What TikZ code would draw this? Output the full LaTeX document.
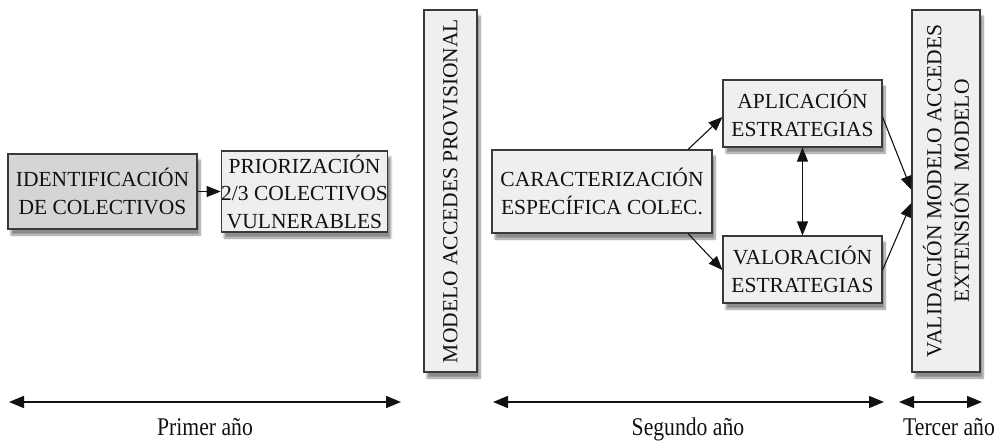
\documentclass[tikz,border=0pt]{standalone}
\usepackage{fontspec}
\setmainfont{Liberation Serif}
\newfontfamily\yearfont[FakeStretch=0.85]{Liberation Serif}
\usepackage{xcolor}
\usetikzlibrary{arrows.meta,shadows.blur}
\definecolor{boxline}{HTML}{3A3A3A}
\definecolor{boxfill}{HTML}{EEEFEF}
\definecolor{darkfill}{HTML}{D4D5D6}
\definecolor{ink}{HTML}{111111}
\tikzset{
  stage/.style={draw=boxline, fill=boxfill, line width=1.1pt, inner sep=0pt,
    align=center, text=ink, font=\fontsize{21.5}{27.5}\selectfont,
    blur shadow={shadow xshift=3pt, shadow yshift=-6pt, shadow blur steps=10, shadow opacity=45}},
  startstage/.style={stage, fill=darkfill},
  tall/.style={stage, rotate=90, minimum width=362pt},
  flow/.style={draw=ink, line width=1.1pt, -{Triangle[length=14pt,width=11pt]}},
  both/.style={draw=ink, line width=1.2pt, {Triangle[length=14pt,width=11pt]}-{Triangle[length=14pt,width=11pt]}},
  span/.style={draw=ink, line width=1.5pt, {Triangle[length=15pt,width=12pt]}-{Triangle[length=15pt,width=12pt]}},
  yearlab/.style={text=ink, anchor=base, font=\yearfont\fontsize{25.5}{28}\selectfont}
}

\begin{document}
\begin{tikzpicture}[x=1pt, y=-1pt]
  \useasboundingbox (0,0) rectangle (994,441);
  % first year
  \node[startstage, minimum width=189pt, minimum height=75pt] (ident) at (102.5,191.5) {IDENTIFICACIÓN\\DE COLECTIVOS};
  \node[stage, minimum width=153pt, minimum height=81pt] (prior) at (304.5,191.5) {PRIORIZACIÓN\\2/3 COLECTIVOS\\VULNERABLES};
  \node[tall, minimum height=53pt] (provis) at (450.5,191) {MODELO ACCEDES PROVISIONAL};
  % second year
  \node[stage, minimum width=220pt, minimum height=83pt] (caract) at (602,191.5) {CARACTERIZACIÓN\\ESPECÍFICA COLEC.};
  \node[stage, minimum width=159pt, minimum height=67pt] (aplic) at (802.5,113.5) {APLICACIÓN\\ESTRATEGIAS};
  \node[stage, minimum width=159pt, minimum height=67pt] (valor) at (802.5,269.5) {VALORACIÓN\\ESTRATEGIAS};
  % third year
  \node[tall, minimum height=68pt] (valid) at (946,191) {VALIDACIÓN MODELO ACCEDES\\EXTENSIÓN~~MODELO};

  \draw[flow] (ident) -- (prior);
  \draw[flow] (caract.north -| 688,0) -- (aplic.west |- 0,117);
  \draw[flow] (caract.south -| 688,0) -- (valor.west |- 0,270);
  \draw[both] (aplic) -- (valor);
  \draw[flow] (aplic.east |- 0,117) -- (valid.north |- 0,190);
  \draw[flow] (valor.east |- 0,270) -- (valid.north |- 0,203);

  % time line
  \coordinate (p1) at (9,402);
  \coordinate (p2) at (401,402);
  \coordinate (s1) at (493,402);
  \coordinate (s2) at (884,402);
  \coordinate (t1) at (899,402);
  \coordinate (t2) at (982,402);
  \draw[span] (p1) -- (p2);
  \draw[span] (s1) -- (s2);
  \draw[span] (t1) -- (t2);
  \node[yearlab] (primer) at (205,435.5) {Primer año};
  \node[yearlab] (segundo) at (688,435.5) {Segundo año};
  \node[yearlab] (tercer) at (949,435.5) {Tercer año};
\end{tikzpicture}
\end{document}
